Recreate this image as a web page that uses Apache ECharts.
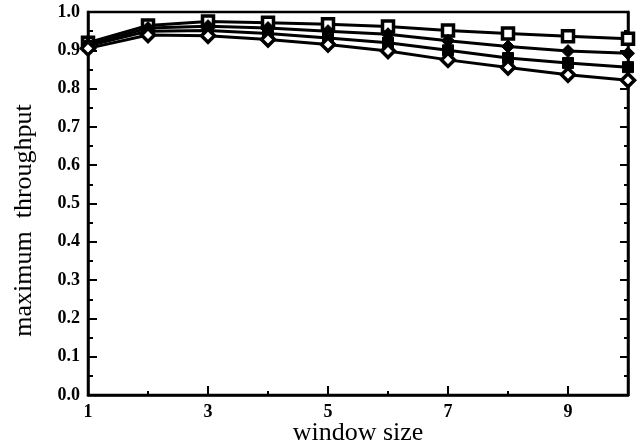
<!DOCTYPE html>
<html>
<head>
<meta charset="utf-8">
<script src="https://cdn.jsdelivr.net/npm/echarts@6/dist/echarts.min.js"></script>
<style>
  html, body { margin: 0; padding: 0; background: #fff; }
  #chart { width: 639px; height: 446px; }
</style>
</head>
<body>
<div id="chart"></div>
<script>
// window size 1..10
const windowSizes = [1, 2, 3, 4, 5, 6, 7, 8, 9, 10]
// four curves, top to bottom
const openSquare = [0.920, 0.965, 0.975, 0.972, 0.968, 0.962, 0.952, 0.944, 0.937, 0.930]
const filledDiamond = [0.915, 0.958, 0.963, 0.958, 0.950, 0.942, 0.925, 0.910, 0.898, 0.892]
const filledSquare = [0.912, 0.950, 0.952, 0.944, 0.932, 0.920, 0.900, 0.880, 0.867, 0.856]
const openDiamond = [0.905, 0.940, 0.938, 0.928, 0.915, 0.898, 0.875, 0.855, 0.836, 0.822]

const pairs = (ys) => windowSizes.map((x, i) => [x, ys[i]])
const font = 'Liberation Serif, Times New Roman, serif'

const lineSeries = (name, ys, symbol, hollow) => ({
    name: name,
    type: 'line',
    data: pairs(ys),
    symbol: symbol,
    symbolSize: symbol === 'rect' ? 11 : 13,
    showAllSymbol: true,
    lineStyle: { color: '#000', width: 3 },
    itemStyle: {
        color: hollow ? '#fff' : '#000',
        borderColor: '#000',
        borderWidth: hollow ? 3.5 : 1,
    },
    z: 3,
})

const myChart = echarts.init(document.getElementById('chart'))
const option = {
    animation: false,
    grid: {
        left: 88, right: 11, top: 12, bottom: 51,
        outerBoundsMode: 'none',
        show: true, borderColor: '#000', borderWidth: 2.5,
    },
    xAxis: [
        {
            // data axis, short ticks at every integer
            type: 'value',
            min: 1,
            max: 10,
            interval: 1,
            position: 'bottom',
            axisLine: { show: true, lineStyle: { color: '#000', width: 2.5 } },
            axisTick: { show: true, inside: true, length: 4, lineStyle: { color: '#000', width: 2 } },
            axisLabel: { show: false },
            splitLine: { show: false },
            name: 'window size',
            nameLocation: 'middle',
            nameGap: 25,
            nameTextStyle: { fontFamily: font, fontSize: 26, color: '#000' },
        },
        {
            // labelled axis, long ticks at odd sizes (offset by one)
            type: 'value',
            min: 0,
            max: 9,
            interval: 2,
            position: 'bottom',
            axisLine: { show: false },
            axisTick: { show: true, inside: true, length: 9, lineStyle: { color: '#000', width: 2 } },
            axisLabel: {
                fontFamily: font, fontSize: 18, fontWeight: 'bold', color: '#000', margin: 8,
                formatter: (v) => (v % 2 === 0 ? String(v + 1) : ''),
            },
            splitLine: { show: false },
        },
    ],
    yAxis: [
        {
            type: 'value',
            min: 0,
            max: 1,
            interval: 0.1,
            position: 'left',
            axisLine: { show: true, lineStyle: { color: '#000', width: 2.5 } },
            axisTick: { show: true, inside: true, length: 9, lineStyle: { color: '#000', width: 2 } },
            minorTick: { show: true, splitNumber: 2, length: 5, lineStyle: { color: '#000', width: 2 } },
            axisLabel: {
                fontFamily: font, fontSize: 18, fontWeight: 'bold', color: '#000', margin: 8,
                formatter: (v) => v.toFixed(1),
            },
            splitLine: { show: false },
            name: 'maximum  throughput',
            nameLocation: 'middle',
            nameGap: 51,
            nameTextStyle: { fontFamily: font, fontSize: 26, color: '#000', padding: [0, 34, 0, 0] },
        },
        {
            type: 'value',
            min: 0,
            max: 1,
            interval: 0.1,
            position: 'right',
            axisLine: { show: true, lineStyle: { color: '#000', width: 2.5 } },
            axisTick: { show: true, inside: true, length: 8, lineStyle: { color: '#000', width: 2 } },
            minorTick: { show: true, splitNumber: 2, length: 4, lineStyle: { color: '#000', width: 2 } },
            axisLabel: { show: false },
            splitLine: { show: false },
        },
    ],
    series: [
        lineSeries('open square', openSquare, 'rect', true),
        lineSeries('filled diamond', filledDiamond, 'diamond', false),
        lineSeries('filled square', filledSquare, 'rect', false),
        lineSeries('open diamond', openDiamond, 'diamond', true),
    ],
}
myChart.setOption(option)
</script>
</body>
</html>
